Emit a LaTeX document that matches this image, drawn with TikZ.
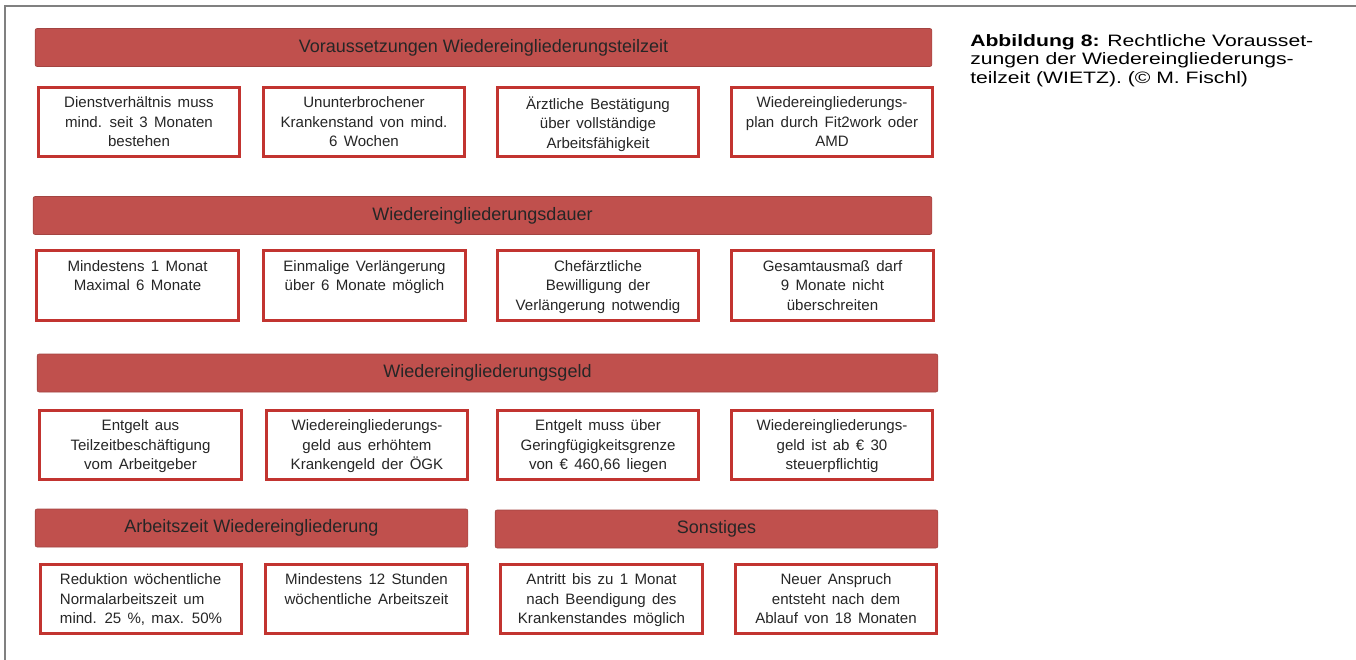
\documentclass[tikz,border=0pt]{standalone}
\usepackage{fontspec}
\setmainfont{Liberation Sans}
\newfontfamily\capfont[FakeStretch=1.28]{Liberation Sans}
\usepackage{xcolor}
\usepackage{tikz}
\usetikzlibrary{positioning}
\definecolor{headred}{RGB}{192,80,77}
\definecolor{boxred}{RGB}{194,52,48}
\definecolor{framegray}{RGB}{128,128,128}
\definecolor{txtgray}{RGB}{38,38,38}
\newcommand\itemfont{\fontsize{11.3}{14.6}\selectfont\spaceskip=0.42em plus 0.1em\relax}
\tikzset{
  head/.style={fill=headred,draw=headred!85!black,line width=0.5pt,rounded corners=1.5pt,text=txtgray,font=\fontsize{13.5}{15}\selectfont,inner sep=0pt,minimum height=28.5pt},
  item/.style={draw=boxred,line width=2.4pt,fill=white,minimum width=151pt,minimum height=52pt,inner sep=0pt},
  itemtxt/.style={anchor=north,align=center,text=txtgray,font=\itemfont,inner sep=0pt},
}

\begin{document}
\begin{tikzpicture}[x=0.75pt,y=-0.75pt]
\useasboundingbox (0,0) rectangle (1356,660);
\draw[framegray,line width=1.4pt] (5,660)--(5,6)--(1356,6);
% Voraussetzungen
\node[head,minimum width=672.5pt] (hV) at (483.5,47.5) {Voraussetzungen Wiedereingliederungsteilzeit};
\foreach \i/\x/\t in {1/139/{Dienstverhältnis muss\\mind. seit 3 Monaten\\bestehen},2/364/{Ununterbrochener\\Krankenstand von mind.\\6 Wochen},3/598/{Ärztliche Bestätigung\\über vollständige\\Arbeitsfähigkeit},4/832/{Wiedereingliederungs-\\plan durch Fit2work oder\\AMD}} {
  \node[item] (v\i) at (\x,122) {};
  \node[itemtxt] (v\i t) at ([yshift=-8pt]v\i.north) {\t};
}
% Dauer
\node[head,minimum width=674pt] (hD) at (482.5,215.5) {Wiedereingliederungsdauer};
\foreach \i/\x/\t in {1/137.5/{Mindestens 1 Monat\\Maximal 6 Monate},2/364.5/{Einmalige Verlängerung\\über 6 Monate möglich},3/598/{Chefärztliche\\Bewilligung der\\Verlängerung notwendig},4/832.5/{Gesamtausmaß darf\\9 Monate nicht\\überschreiten}} {
  \node[item] (d\i) at (\x,285.5) {};
  \node[itemtxt] (d\i t) at ([yshift=-8pt]d\i.north) {\t};
}
% Geld
\node[head,minimum width=675.5pt] (hG) at (487.5,373) {Wiedereingliederungsgeld};
\foreach \i/\x/\t in {1/140.5/{Entgelt aus\\Teilzeitbeschäftigung\\vom Arbeitgeber},2/367/{Wiedereingliederungs-\\geld aus erhöhtem\\Krankengeld der ÖGK},3/598/{Entgelt muss über\\Geringfügigkeitsgrenze\\von € 460,66 liegen},4/832/{Wiedereingliederungs-\\geld ist ab € 30\\steuerpflichtig}} {
  \node[item] (g\i) at (\x,445) {};
  \node[itemtxt] (g\i t) at ([yshift=-8pt]g\i.north) {\t};
}
% Arbeitszeit und Sonstiges
\node[head,minimum width=324.5pt] (hA) at (251.5,528) {Arbeitszeit Wiedereingliederung};
\node[head,minimum width=332pt] (hS) at (716.5,529) {Sonstiges};
\node[item] (a1) at (141,599) {};
\node[itemtxt,align=left] (a1t) at ([yshift=-8pt]a1.north) {Reduktion wöchentliche\\Normalarbeitszeit um\\mind. 25 \%, max. 50\%};
\node[item] (a2) at (366.5,599) {};
\node[itemtxt] (a2t) at ([yshift=-8pt]a2.north) {Mindestens 12 Stunden\\wöchentliche Arbeitszeit};
\node[item] (s1) at (601.5,599) {};
\node[itemtxt] (s1t) at ([yshift=-8pt]s1.north) {Antritt bis zu 1 Monat\\nach Beendigung des\\Krankenstandes möglich};
\node[item] (s2) at (836,599) {};
\node[itemtxt] (s2t) at ([yshift=-8pt]s2.north) {Neuer Anspruch\\entsteht nach dem\\Ablauf von 18 Monaten};
% Bildunterschrift
\node[anchor=north west,align=left,inner sep=0pt,font=\capfont\fontsize{12.4}{14}\selectfont] (cap) at (970,34) {\textbf{Abbildung 8:} Rechtliche Vorausset-\\zungen der Wiedereingliederungs-\\teilzeit (WIETZ). (© M. Fischl)};
\end{tikzpicture}
\end{document}
